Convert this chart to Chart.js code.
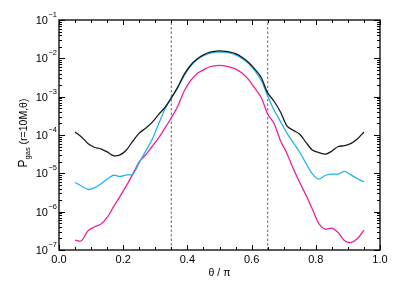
<!DOCTYPE html>
<html><head><meta charset="utf-8">
<script src="https://cdn.jsdelivr.net/npm/chart.js@4/dist/chart.umd.min.js"></script>
<style>html,body{margin:0;padding:0;background:#fff;}#wrap{width:399px;height:290px;}</style>
</head><body><div id="wrap"><canvas id="c" width="399" height="290"></canvas></div>
<script>
const theta = [0.05,0.07,0.09,0.11,0.13,0.15,0.17,0.19,0.21,0.23,0.25,0.27,0.29,0.31,0.33,0.35,0.37,0.39,0.41,0.43,0.45,0.47,0.49,0.51,0.53,0.55,0.57,0.59,0.61,0.63,0.65,0.67,0.69,0.71,0.73,0.75,0.77,0.79,0.81,0.83,0.85,0.87,0.89,0.91,0.93,0.95];
const pBlack = [1.20e-4,8.91e-5,6.03e-5,4.79e-5,4.37e-5,3.63e-5,2.88e-5,3.02e-5,4.07e-5,6.92e-5,1.12e-4,1.51e-4,2.14e-4,3.39e-4,5.25e-4,9.33e-4,1.78e-3,3.80e-3,6.61e-3,9.55e-3,1.23e-2,1.45e-2,1.55e-2,1.55e-2,1.48e-2,1.32e-2,1.07e-2,7.94e-3,5.25e-3,3.16e-3,1.26e-3,7.59e-4,3.98e-4,1.74e-4,1.32e-4,1.05e-4,6.31e-5,3.98e-5,3.47e-5,3.16e-5,3.80e-5,5.01e-5,5.25e-5,6.03e-5,7.94e-5,1.20e-4];
const pCyan = [5.75e-6,4.68e-6,3.80e-6,4.17e-6,5.25e-6,7.08e-6,8.91e-6,8.32e-6,9.12e-6,9.55e-6,1.91e-5,3.80e-5,7.59e-5,1.91e-4,4.68e-4,9.33e-4,1.74e-3,3.55e-3,6.31e-3,9.12e-3,1.17e-2,1.35e-2,1.45e-2,1.45e-2,1.38e-2,1.23e-2,1.00e-2,7.41e-3,4.79e-3,2.63e-3,1.05e-3,4.47e-4,2.24e-4,1.12e-4,6.31e-5,3.55e-5,1.78e-5,9.55e-6,7.08e-6,8.91e-6,9.55e-6,9.55e-6,1.12e-5,9.12e-6,7.24e-6,6.03e-6];
const pMagenta = [1.82e-7,1.74e-7,3.16e-7,3.98e-7,4.68e-7,7.08e-7,1.35e-6,2.51e-6,4.79e-6,9.55e-6,2.00e-5,3.02e-5,5.01e-5,8.32e-5,1.51e-4,2.82e-4,5.62e-4,1.41e-3,2.63e-3,3.98e-3,5.01e-3,6.03e-3,6.46e-3,6.46e-3,6.03e-3,5.25e-3,4.17e-3,2.82e-3,1.66e-3,9.55e-4,3.55e-4,2.00e-4,7.08e-5,3.31e-5,1.32e-5,5.75e-6,2.63e-6,1.12e-6,4.79e-7,3.47e-7,3.72e-7,2.82e-7,1.74e-7,1.58e-7,2.00e-7,3.31e-7];
const markerTheta = [0.35, 0.65];
const xTicks = [0.0,0.2,0.4,0.6,0.8,1.0];
const yDecades = [-7,-6,-5,-4,-3,-2,-1];

function pts(ys){ return theta.map((t,i)=>({x:t,y:ys[i]})); }
const datasets = [
  {data: pts(pBlack), borderColor:'#1a1a1a', borderWidth:1.3},
  {data: pts(pCyan), borderColor:'#1fb3ee', borderWidth:1.3},
  {data: pts(pMagenta), borderColor:'#f21f97', borderWidth:1.3}
];
markerTheta.forEach(t=>datasets.push({data:[{x:t,y:1e-7},{x:t,y:1e-1}], borderColor:'#808080', borderWidth:1.2, borderDash:[2.5,2], tension:0}));
datasets.forEach(d=>{d.pointRadius=0; d.fill=false; if(d.tension===undefined) d.tension=0.3;});

const FONT = '"Liberation Sans", Arial, sans-serif';
const axesPlugin = {
  id:'axes',
  afterDatasetsDraw(chart){
    const ctx = chart.ctx, a = chart.chartArea, xs = chart.scales.x, ys = chart.scales.y;
    ctx.save();
    ctx.strokeStyle='#000'; ctx.lineWidth=1.3;
    ctx.strokeRect(a.left, a.top, a.right-a.left, a.bottom-a.top);
    ctx.lineWidth=1;
    ctx.beginPath();
    for(let k=0;k<=20;k++){
      const v=k*0.05, px=Math.round(xs.getPixelForValue(v))+0.5;
      const L = (k%4===0)?5:3;
      ctx.moveTo(px,a.bottom); ctx.lineTo(px,a.bottom-L);
      ctx.moveTo(px,a.top); ctx.lineTo(px,a.top+L);
    }
    for(let d=-7; d<=-1; d++){
      for(let m=1;m<=9;m++){
        if(d===-1 && m>1) break;
        const v=m*Math.pow(10,d), py=Math.round(ys.getPixelForValue(v))+0.5;
        const L = m===1?6:3;
        ctx.moveTo(a.left,py); ctx.lineTo(a.left+L,py);
        ctx.moveTo(a.right,py); ctx.lineTo(a.right-L,py);
      }
    }
    ctx.stroke();
    ctx.fillStyle='#000';
    ctx.font='11px '+FONT; ctx.textAlign='center'; ctx.textBaseline='middle';
    xTicks.forEach(v=>ctx.fillText(v.toFixed(1), xs.getPixelForValue(v), a.bottom+10));
    yDecades.forEach(d=>{
      const py = ys.getPixelForValue(Math.pow(10,d));
      ctx.font='7.5px '+FONT; ctx.textAlign='right'; ctx.textBaseline='middle';
      const sup = '\u2212'+(-d);
      const supW = ctx.measureText(sup).width;
      const rx = a.left-2;
      ctx.fillText(sup, rx, py-5);
      ctx.font='11px '+FONT;
      ctx.fillText('10', rx-supW-0.5, py+1);
    });
    ctx.font='10.5px '+FONT; ctx.textAlign='center'; ctx.textBaseline='middle';
    ctx.fillText('\u03b8 / \u03c0', (a.left+a.right)/2, a.bottom+23);
    ctx.translate(24, 133);
    ctx.rotate(-Math.PI/2);
    const p1='P', p2='gas', p3=' (r=10M,\u03b8)';
    ctx.font='12px '+FONT; const w1=ctx.measureText(p1).width;
    ctx.font='7.5px '+FONT; const w2=ctx.measureText(p2).width;
    ctx.font='10.5px '+FONT; const w3=ctx.measureText(p3).width;
    let x0 = -(w1+w2+w3)/2;
    ctx.textAlign='left'; ctx.textBaseline='middle';
    ctx.font='12px '+FONT; ctx.fillText(p1,x0,0); x0+=w1;
    ctx.font='7.5px '+FONT; ctx.fillText(p2,x0,3.5); x0+=w2;
    ctx.font='10.5px '+FONT; ctx.fillText(p3,x0,0);
    ctx.restore();
  }
};

new Chart(document.getElementById('c'), {
  type:'line',
  data:{datasets},
  options:{
    responsive:false, animation:false,
    layout:{padding:{left:59,right:19,top:20,bottom:40}},
    plugins:{legend:{display:false}, tooltip:{enabled:false}},
    scales:{
      x:{type:'linear', min:0, max:1, display:false},
      y:{type:'logarithmic', min:1e-7, max:1e-1, display:false}
    }
  },
  plugins:[axesPlugin]
});
</script></body></html>
